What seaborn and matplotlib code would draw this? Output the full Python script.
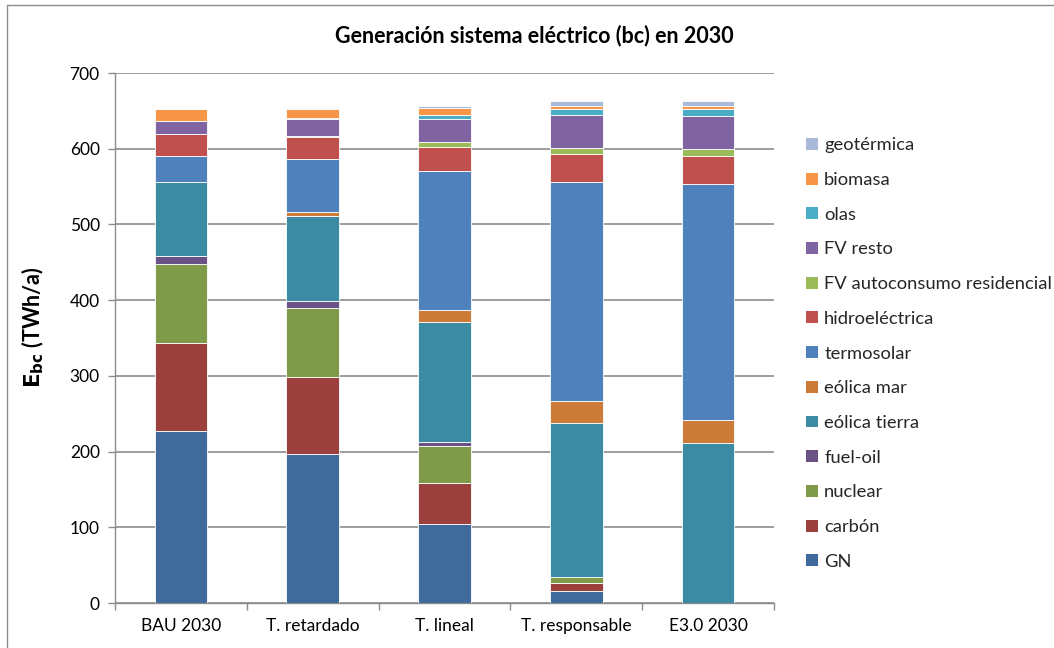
import numpy as np
import matplotlib
matplotlib.use("Agg")
import matplotlib.pyplot as plt
from matplotlib.patches import Patch
from matplotlib.lines import Line2D
import seaborn as sns

# Scenarios (x axis)
escenarios = ["BAU 2030", "T. retardado", "T. lineal", "T. responsable", "E3.0 2030"]

# Generation by technology, TWh/a, stacked bottom to top
gn = [227, 197, 105, 16, 0]
carbon = [117, 102, 54, 10, 0]
nuclear = [104, 91, 49, 9, 0]
fuel_oil = [10, 9, 4.5, 0, 0]
eolica_tierra = [98, 112, 159, 203, 211.5]
eolica_mar = [0, 5, 16, 28.5, 30]
termosolar = [35, 71, 183, 290, 312]
hidroelectrica = [28, 29, 32, 36.5, 37]
fv_autoconsumo = [0, 1, 6, 8, 8.5]
fv_resto = [17, 22, 31, 43, 44.5]
olas = [0.5, 1, 5, 8, 9]
biomasa = [15.5, 13, 9.5, 5, 4]
geotermica = [0.5, 1, 3, 6, 6.5]

tecnologias = ["GN", "carbón", "nuclear", "fuel-oil", "eólica tierra", "eólica mar",
               "termosolar", "hidroeléctrica", "FV autoconsumo residencial",
               "FV resto", "olas", "biomasa", "geotérmica"]
series = [gn, carbon, nuclear, fuel_oil, eolica_tierra, eolica_mar, termosolar,
          hidroelectrica, fv_autoconsumo, fv_resto, olas, biomasa, geotermica]
colores = ["#3F6A9B", "#9C403E", "#7F9A48", "#6A5287", "#3B8CA2", "#CC7B38",
           "#4F81BD", "#C0504D", "#9BBB59", "#8064A2", "#4BACC6", "#F79646",
           "#A9BAD9"]

sns.set_theme(style="white")
plt.rcParams["font.family"] = ["Lato", "DejaVu Sans"]

fig = plt.figure(figsize=(10.54, 6.48), dpi=100)
ax = fig.add_axes([115 / 1054, 1 - 603 / 648, (774 - 115) / 1054, (603 - 73) / 648])

base = np.zeros(len(escenarios))
for nombre, vals, col in zip(tecnologias, series, colores):
    sns.barplot(x=escenarios, y=vals, order=escenarios, bottom=base, color=col,
                width=0.4, errorbar=None, linewidth=0.6, edgecolor="#ffffff",
                saturation=1, ax=ax, zorder=3)
    base = base + np.asarray(vals, dtype=float)

ax.set_ylim(0, 700)
ax.set_xlim(-0.5, len(escenarios) - 0.5)
ax.set_yticks(np.arange(0, 701, 100))
ax.yaxis.grid(True, color="#8C8C8C", linewidth=1.2, zorder=0)
ax.xaxis.grid(False)
ax.set_axisbelow(True)

for s in ["top", "right"]:
    ax.spines[s].set_visible(False)
for s in ["left", "bottom"]:
    ax.spines[s].set_color("#8C8C8C")
    ax.spines[s].set_linewidth(1.0)

# category ticks sit on the boundaries between bars
ax.set_xticks(np.arange(-0.5, len(escenarios) + 0.5, 1.0), minor=False)
ax.set_xticklabels([])
ax.set_xticks(np.arange(len(escenarios)), minor=True)
ax.set_xticklabels(escenarios, minor=True)
ax.tick_params(axis="x", which="major", direction="out", length=5, width=1,
               color="#8C8C8C", bottom=True)
ax.tick_params(axis="x", which="minor", length=0, labelsize=12.5, pad=11,
               labelcolor="#000000")
ax.tick_params(axis="y", direction="out", length=5, width=1, color="#8C8C8C",
               left=True, labelsize=12.5, pad=6, labelcolor="#000000")
ax.set_xlabel("")
ax.set_ylabel(r"$\mathbf{E_{bc}}$ (TWh/a)", fontsize=15.5, fontweight="bold",
              color="#000000")
ax.yaxis.set_label_coords(-0.105, 0.52)

fig.text(534 / 1054, 1 - 36 / 648, "Generación sistema eléctrico (bc) en 2030",
         ha="center", va="center", fontsize=15.5, fontweight="bold", color="#000000")

handles = [Patch(facecolor=c, edgecolor="none") for c in colores][::-1]
labels = tecnologias[::-1]
fig.legend(handles, labels, loc="upper left",
           bbox_to_anchor=(799 / 1054, 1 - 130 / 648), frameon=False,
           fontsize=13.2, handlelength=0.62, handleheight=0.62, handletextpad=0.35,
           labelspacing=1.02, borderaxespad=0)

# chart-area frame (top and left edges)
fig.add_artist(Line2D([7 / 1054, 1.0], [1 - 5 / 648, 1 - 5 / 648],
                      transform=fig.transFigure, color="#8C8C8C", linewidth=1))
fig.add_artist(Line2D([7 / 1054, 7 / 1054], [0, 1 - 5 / 648],
                      transform=fig.transFigure, color="#8C8C8C", linewidth=1))

fig.savefig("out.png", dpi=100)
